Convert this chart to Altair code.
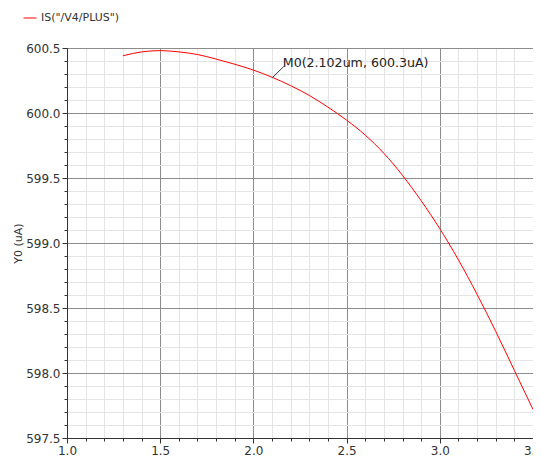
import altair as alt
import pandas as pd

# Curve data
x_vals = [1.3, 1.4, 1.5, 1.6, 1.7, 1.8, 1.9, 2.0, 2.1, 2.2, 2.3, 2.4, 2.5,
          2.6, 2.7, 2.8, 2.9, 3.0, 3.1, 3.2, 3.3, 3.4, 3.5]
y_vals = [600.44, 600.47, 600.48, 600.47, 600.45, 600.415, 600.375, 600.33,
          600.275, 600.21, 600.135, 600.045, 599.945, 599.83, 599.69, 599.52,
          599.325, 599.11, 598.87, 598.605, 598.32, 598.02, 597.72]
series_name = 'IS("/V4/PLUS")'

x_ticks = [1.0, 1.1, 1.2, 1.3, 1.4, 1.5, 1.6, 1.7, 1.8, 1.9, 2.0, 2.1, 2.2,
           2.3, 2.4, 2.5, 2.6, 2.7, 2.8, 2.9, 3.0, 3.1, 3.2, 3.3, 3.4, 3.5]
y_ticks = [597.5, 597.6, 597.7, 597.8, 597.9, 598.0, 598.1, 598.2, 598.3,
           598.4, 598.5, 598.6, 598.7, 598.8, 598.9, 599.0, 599.1, 599.2,
           599.3, 599.4, 599.5, 599.6, 599.7, 599.8, 599.9, 600.0, 600.1,
           600.2, 600.3, 600.4, 600.5]

marker_text = ["M0(2.102um, 600.3uA)"]
marker_x = [2.102]
marker_y = [600.272]
marker_label_x = [2.163]
marker_label_y = [600.358]

df = pd.DataFrame({"x": x_vals, "y": y_vals, "series": series_name})
ann = pd.DataFrame({"x": marker_x, "y": marker_y, "lx": marker_label_x,
                    "ly": marker_label_y, "t": marker_text})

major = "abs(datum.value*2 - round(datum.value*2)) < 0.001"
FONT = "DejaVu Sans"

def axis(values, title=None, **kw):
    return alt.Axis(
        values=values,
        tickCount=len(values),
        title=title,
        grid=True,
        gridColor={"condition": {"test": major, "value": "#8c8c8c"}, "value": "#e4e4e4"},
        gridWidth=1,
        tickSize={"condition": {"test": major, "value": 5}, "value": 3},
        tickColor="#333333",
        domainColor="#333333",
        labelExpr=f"{major} ? format(datum.value, '.1f') : ''",
        labelFont=FONT,
        labelFontSize=12,
        labelColor="#333333",
        labelPadding=2,
        labelOverlap=False,
        labelFlush=False,
        **kw,
    )

xscale = alt.Scale(domain=[1.0, 3.5], nice=False, zero=False)
yscale = alt.Scale(domain=[597.5, 600.5], nice=False, zero=False)

line = alt.Chart(df).mark_line(strokeWidth=1, clip=True, interpolate="monotone").encode(
    x=alt.X("x:Q", scale=xscale, axis=axis(x_ticks)),
    y=alt.Y("y:Q", scale=yscale,
            axis=axis(y_ticks, title="Y0 (uA)", titleFont=FONT, titleFontSize=11,
                      titleFontWeight="normal", titleColor="#333333",
                      titleX=-49, titleY=195, titleBaseline="middle",
                      titleAlign="center")),
    color=alt.Color("series:N", scale=alt.Scale(range=["#ff0000"]),
                    legend=alt.Legend(title=None, orient="none", legendX=-44,
                                      legendY=-37, symbolType="stroke",
                                      symbolSize=169, symbolStrokeWidth=1,
                                      labelFont=FONT, labelFontSize=11,
                                      labelColor="#333333", padding=0)),
)

leader = alt.Chart(ann).mark_rule(color="#333333", strokeWidth=1).encode(
    x="x:Q", y="y:Q", x2="lx:Q", y2="ly:Q")

label = alt.Chart(ann).mark_text(align="left", baseline="alphabetic", font=FONT,
                                 fontSize=12.6, color="#222222", dx=-1, dy=1).encode(
    x="lx:Q", y="ly:Q", text="t:N")

chart = alt.layer(line, leader, label).properties(
    width=466, height=390,
    autosize=alt.AutoSizeParams(type="none"),
    padding={"left": 59, "top": 40, "right": 0, "bottom": 18},
).configure_view(stroke="#555555", strokeWidth=1)

chart.save("out.html", embed_options={"renderer": "svg", "actions": False})
